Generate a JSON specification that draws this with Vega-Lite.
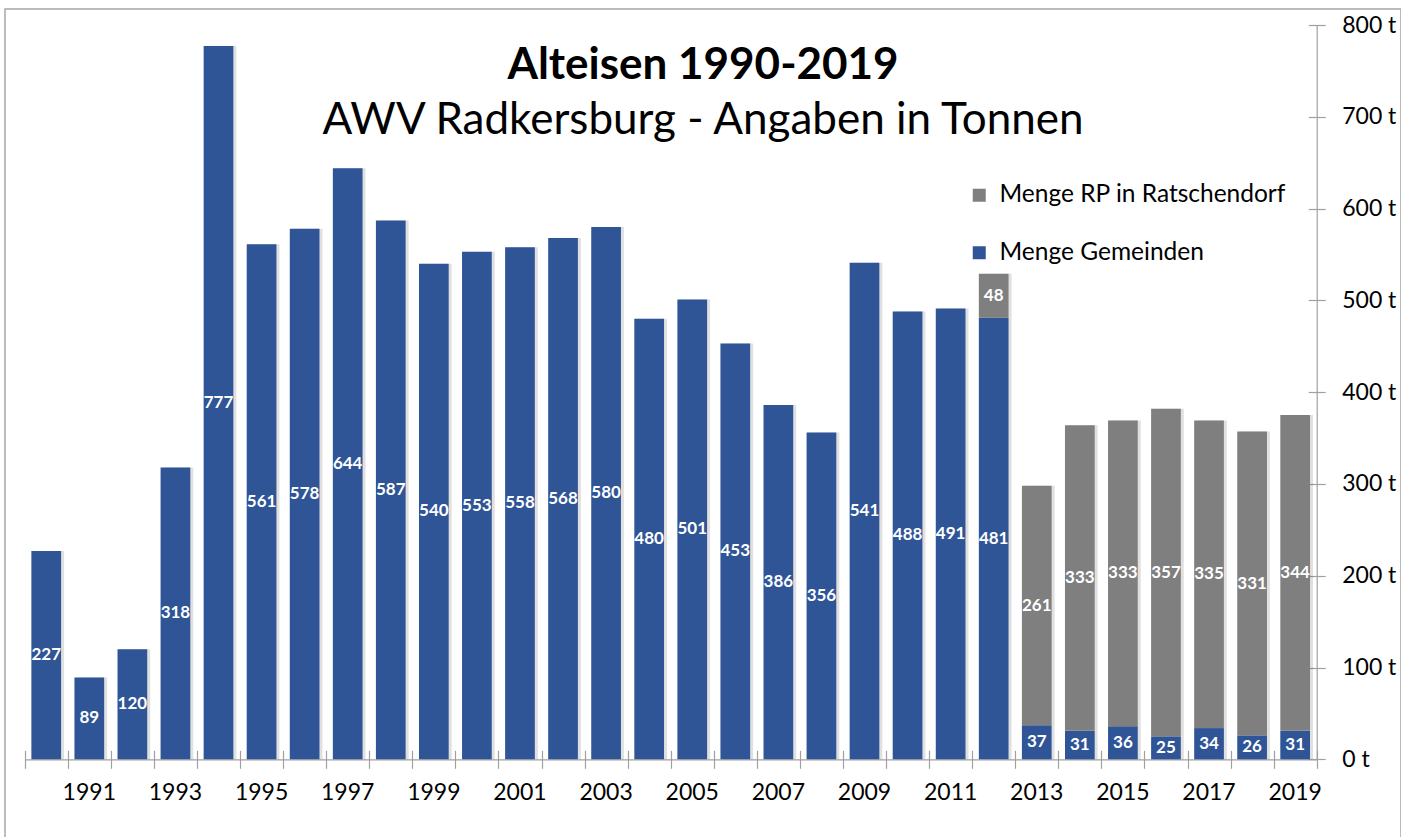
{
  "$schema": "https://vega.github.io/schema/vega-lite/v6.json",
  "autosize": {"type": "none"},
  "padding": {"left": 5, "top": 9, "right": 0, "bottom": 0},
  "width": 1396,
  "height": 840,
  "background": "white",
  "config": {
    "view": {"stroke": "#a6a6a6", "strokeWidth": 1.5},
    "font": "Lato",
    "axis": {"grid": false, "title": null}
  },
  "title": {
    "text": "Alteisen 1990-2019",
    "subtitle": "AWV Radkersburg - Angaben in Tonnen",
    "anchor": "middle",
    "orient": "top",
    "frame": "group",
    "offset": -134,
    "font": "Lato",
    "fontSize": 44,
    "fontWeight": "bold",
    "color": "black",
    "subtitleFont": "Lato",
    "subtitleFontSize": 44,
    "subtitleColor": "black",
    "subtitlePadding": 11
  },
  "data": {
    "values": [
      {"year": 1990, "series": "Menge Gemeinden", "value": 227},
      {"year": 1991, "series": "Menge Gemeinden", "value": 89},
      {"year": 1992, "series": "Menge Gemeinden", "value": 120},
      {"year": 1993, "series": "Menge Gemeinden", "value": 318},
      {"year": 1994, "series": "Menge Gemeinden", "value": 777},
      {"year": 1995, "series": "Menge Gemeinden", "value": 561},
      {"year": 1996, "series": "Menge Gemeinden", "value": 578},
      {"year": 1997, "series": "Menge Gemeinden", "value": 644},
      {"year": 1998, "series": "Menge Gemeinden", "value": 587},
      {"year": 1999, "series": "Menge Gemeinden", "value": 540},
      {"year": 2000, "series": "Menge Gemeinden", "value": 553},
      {"year": 2001, "series": "Menge Gemeinden", "value": 558},
      {"year": 2002, "series": "Menge Gemeinden", "value": 568},
      {"year": 2003, "series": "Menge Gemeinden", "value": 580},
      {"year": 2004, "series": "Menge Gemeinden", "value": 480},
      {"year": 2005, "series": "Menge Gemeinden", "value": 501},
      {"year": 2006, "series": "Menge Gemeinden", "value": 453},
      {"year": 2007, "series": "Menge Gemeinden", "value": 386},
      {"year": 2008, "series": "Menge Gemeinden", "value": 356},
      {"year": 2009, "series": "Menge Gemeinden", "value": 541},
      {"year": 2010, "series": "Menge Gemeinden", "value": 488},
      {"year": 2011, "series": "Menge Gemeinden", "value": 491},
      {"year": 2012, "series": "Menge Gemeinden", "value": 481},
      {"year": 2012, "series": "Menge RP in Ratschendorf", "value": 48},
      {"year": 2013, "series": "Menge Gemeinden", "value": 37},
      {"year": 2013, "series": "Menge RP in Ratschendorf", "value": 261},
      {"year": 2014, "series": "Menge Gemeinden", "value": 31},
      {"year": 2014, "series": "Menge RP in Ratschendorf", "value": 333},
      {"year": 2015, "series": "Menge Gemeinden", "value": 36},
      {"year": 2015, "series": "Menge RP in Ratschendorf", "value": 333},
      {"year": 2016, "series": "Menge Gemeinden", "value": 25},
      {"year": 2016, "series": "Menge RP in Ratschendorf", "value": 357},
      {"year": 2017, "series": "Menge Gemeinden", "value": 34},
      {"year": 2017, "series": "Menge RP in Ratschendorf", "value": 335},
      {"year": 2018, "series": "Menge Gemeinden", "value": 26},
      {"year": 2018, "series": "Menge RP in Ratschendorf", "value": 331},
      {"year": 2019, "series": "Menge Gemeinden", "value": 31},
      {"year": 2019, "series": "Menge RP in Ratschendorf", "value": 344}
    ]
  },
  "transform": [
    {"stack": "value", "groupby": ["year"], "sort": [{"field": "series", "order": "ascending"}], "as": ["v0", "v1"]},
    {"calculate": "(datum.v0 + datum.v1) / 2", "as": "mid"}
  ],
  "layer": [
    {
      "mark": {"type": "bar", "color": "#000000", "opacity": 0.12, "xOffset": 3, "width": {"band": 0.69}},
      "encoding": {
        "x": {"field": "year", "type": "ordinal", "scale": {"range": [19.7, 1311.7], "paddingInner": 0, "paddingOuter": 0}, "axis": null},
        "y": {"field": "v1", "type": "quantitative", "scale": {"domain": [0, 800], "range": [750.3, 16], "nice": false, "zero": true}, "axis": null},
        "y2": {"field": "v0"}
      }
    },
    {
      "mark": {"type": "bar", "width": {"band": 0.69}},
      "encoding": {
        "x": {
          "field": "year", "type": "ordinal",
          "scale": {"range": [19.7, 1311.7], "paddingInner": 0, "paddingOuter": 0},
          "axis": {"orient": "bottom", "offset": -98.7, "tickSize": 18, "tickColor": "#a0a0a0", "tickWidth": 1.2, "tickBand": "extent", "domain": false, "labels": false}
        },
        "y": {
          "field": "v1", "type": "quantitative",
          "scale": {"domain": [0, 800], "range": [750.3, 16], "nice": false, "zero": true},
          "axis": {"orient": "right", "offset": -92.8, "tickSize": 17, "tickColor": "#a0a0a0", "tickWidth": 1.2, "values": [0, 100, 200, 300, 400, 500, 600, 700, 800], "domain": false, "labels": false}
        },
        "y2": {"field": "v0"},
        "color": {
          "field": "series", "type": "nominal",
          "scale": {"domain": ["Menge RP in Ratschendorf", "Menge Gemeinden"], "range": ["#7f7f7f", "#2f5597"]},
          "legend": {"orient": "none", "legendX": 962, "legendY": 174, "title": null, "symbolType": "square", "symbolSize": 169, "symbolStrokeWidth": 0, "labelFontSize": 24.5, "labelFont": "Lato", "labelColor": "black", "labelLimit": 0, "rowPadding": 32.5, "labelOffset": 8, "padding": 0}
        }
      }
    },
    {
      "mark": {"type": "text", "color": "white", "fontWeight": "bold", "fontSize": 17, "font": "Lato", "baseline": "middle", "align": "center"},
      "encoding": {
        "x": {
          "field": "year", "type": "ordinal",
          "scale": {"range": [19.7, 1311.7], "paddingInner": 0, "paddingOuter": 0},
          "axis": {"orient": "bottom", "offset": -89.7, "ticks": false, "tickSize": 0, "domain": true, "domainColor": "#a0a0a0", "domainWidth": 1.2, "labelPadding": 22, "labelAngle": 0, "labelFontSize": 23, "labelFont": "Lato", "labelColor": "black", "labelExpr": "datum.value % 2 == 1 ? datum.label : ''"}
        },
        "y": {
          "field": "mid", "type": "quantitative",
          "scale": {"domain": [0, 800], "range": [750.3, 16], "nice": false, "zero": true},
          "axis": {"orient": "right", "offset": -84.3, "ticks": false, "tickSize": 0, "domain": true, "domainColor": "#a0a0a0", "domainWidth": 1.2, "values": [0, 100, 200, 300, 400, 500, 600, 700, 800], "labelPadding": 25, "labelFontSize": 23, "labelFont": "Lato", "labelColor": "black", "labelAlign": "left", "labelExpr": "datum.value + ' t'"}
        },
        "text": {"field": "value", "type": "quantitative"}
      }
    }
  ],
  "resolve": {"axis": {"x": "independent", "y": "independent"}}
}
